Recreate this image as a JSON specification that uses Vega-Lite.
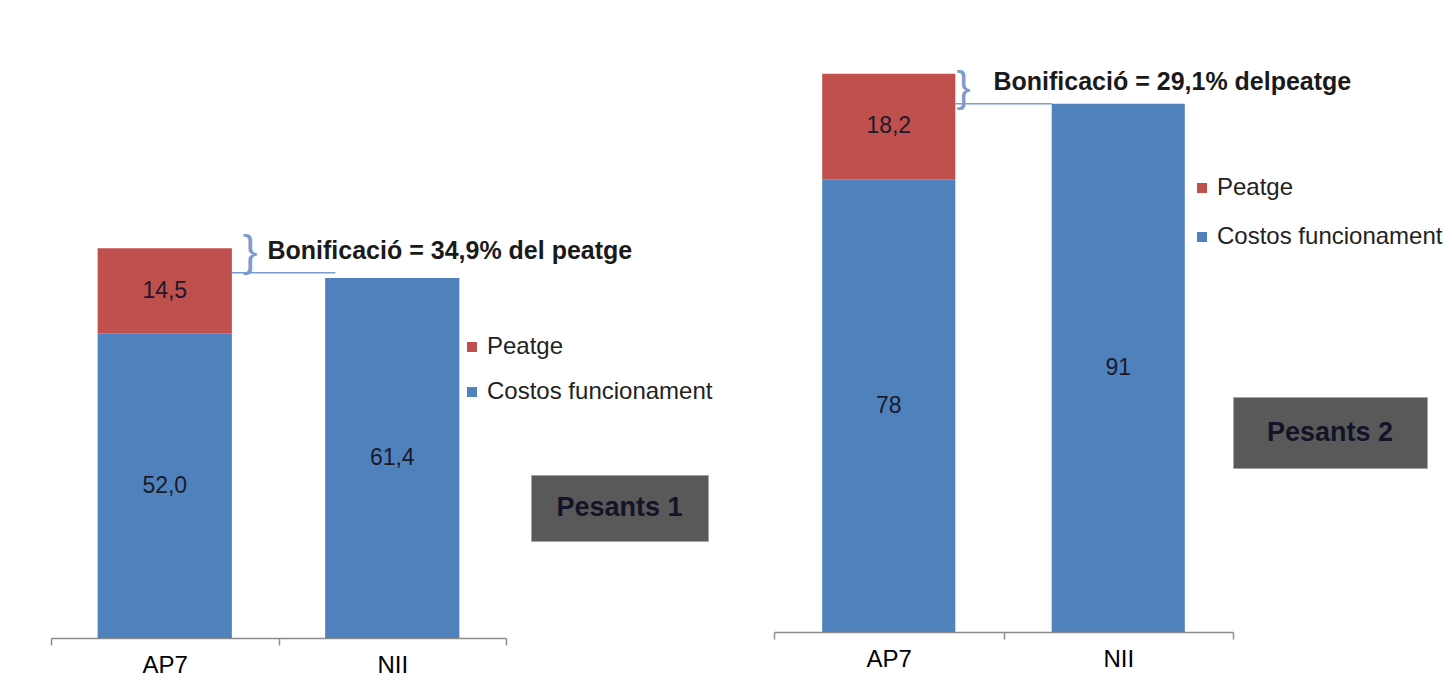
{
  "$schema": "https://vega.github.io/schema/vega-lite/v6.json",
  "padding": {"left": 50, "top": 40, "right": 5, "bottom": 5},
  "background": "white",
  "config": {
    "font": "Liberation Sans",
    "view": {"stroke": null},
    "locale": {"number": {"decimal": ",", "thousands": ".", "grouping": [3], "currency": ["", " €"]}},
    "axisX": {"labelAngle": 0, "labelFontSize": 24, "labelColor": "#000000", "domainColor": "#8c8c8c", "domainWidth": 1.5, "tickColor": "#8c8c8c", "tickWidth": 1.5, "tickSize": 7, "tickBand": "extent", "labelPadding": 8, "grid": false},
    "legend": {"symbolType": "square", "symbolSize": 100, "labelFontSize": 24, "labelColor": "#222222", "padding": 0, "labelOffset": 3, "labelLimit": 400, "orient": "none", "symbolStrokeWidth": 0}
  },
  "datasets": {
    "p1": [
      {"Vehicle": "AP7", "Serie": "Costos funcionament", "value": 52.0},
      {"Vehicle": "AP7", "Serie": "Peatge", "value": 14.5},
      {"Vehicle": "NII", "Serie": "Costos funcionament", "value": 61.4}
    ],
    "p2": [
      {"Vehicle": "AP7", "Serie": "Costos funcionament", "value": 78},
      {"Vehicle": "AP7", "Serie": "Peatge", "value": 18.2},
      {"Vehicle": "NII", "Serie": "Costos funcionament", "value": 91}
    ],
    "a1": [{"from": "AP7", "to": "NII", "label": "Bonificació = 34,9% del peatge", "ly": 66.0, "brace": "}", "by": 65.7, "line": 62.3}],
    "a2": [{"from": "AP7", "to": "NII", "label": "Bonificació = 29,1% delpeatge", "ly": 94.8, "brace": "}", "by": 93.7, "line": 91}],
    "b1": [{"label": "Pesants 1"}],
    "b2": [{"label": "Pesants 2"}],
    "empty": [{}]
  },
  "resolve": {"scale": {"color": "independent", "x": "independent", "y": "independent"}, "legend": {"color": "independent"}},
  "bounds": "flush",
  "spacing": 0,
  "hconcat": [
    {
      "width": 455,
      "height": 598,
      "layer": [
        {
          "data": {"name": "p1"},
          "mark": {"type": "bar", "width": {"band": 0.59}},
          "encoding": {
            "x": {"field": "Vehicle", "type": "nominal", "title": null, "scale": {"domain": ["AP7", "NII"], "paddingInner": 0, "paddingOuter": 0}},
            "y": {"field": "value", "type": "quantitative", "stack": "zero", "axis": null, "scale": {"domain": [0, 102], "nice": false}},
            "color": {"field": "Serie", "type": "nominal", "title": null, "scale": {"domain": ["Peatge", "Costos funcionament"], "range": ["#c0504d", "#4f81bd"]}, "legend": {"legendX": 409, "legendY": 295, "rowPadding": 21}},
            "order": {"field": "Serie", "sort": "ascending"}
          }
        },
        {
          "data": {"name": "p1"},
          "transform": [
            {"stack": "value", "groupby": ["Vehicle"], "sort": [{"field": "Serie", "order": "ascending"}], "as": ["v0", "v1"]},
            {"calculate": "(datum.v0 + datum.v1) / 2", "as": "mid"}
          ],
          "mark": {"type": "text", "fontSize": 23, "color": "#1a1a2a", "baseline": "middle"},
          "encoding": {
            "x": {"field": "Vehicle", "type": "nominal", "title": null},
            "y": {"field": "mid", "type": "quantitative", "axis": null},
            "text": {"field": "value", "type": "quantitative", "format": ".1f"}
          }
        },
        {
          "data": {"name": "a1"},
          "mark": {"type": "rule", "color": "#7b9bcf", "strokeWidth": 1.5},
          "encoding": {
            "x": {"field": "from", "type": "nominal", "bandPosition": 0.795, "title": null},
            "x2": {"field": "to", "bandPosition": 0.25},
            "y": {"field": "line", "type": "quantitative", "axis": null}
          }
        },
        {
          "data": {"name": "a1"},
          "mark": {"type": "text", "align": "center", "baseline": "middle", "fontSize": 44, "color": "#7b9bcf", "dx": -28.5},
          "encoding": {
            "x": {"field": "from", "type": "nominal", "bandPosition": 1, "title": null},
            "y": {"field": "by", "type": "quantitative", "axis": null},
            "text": {"field": "brace"}
          }
        },
        {
          "data": {"name": "a1"},
          "mark": {"type": "text", "align": "left", "baseline": "middle", "fontSize": 25, "fontWeight": "bold", "color": "#1a1a1a", "dx": -11},
          "encoding": {
            "x": {"field": "from", "type": "nominal", "bandPosition": 1, "title": null},
            "y": {"field": "ly", "type": "quantitative", "axis": null},
            "text": {"field": "label"}
          }
        }
      ]
    },
    {"width": 25, "height": 10, "data": {"name": "empty"}, "mark": {"type": "point", "opacity": 0, "size": 0, "strokeWidth": 0}},
    {
      "vconcat": [
        {"width": 177, "height": 435, "data": {"name": "empty"}, "mark": {"type": "point", "opacity": 0, "size": 0, "strokeWidth": 0}},
        {
          "width": 177, "height": 66,
          "view": {"fill": "#595959", "stroke": "#a6a6a6"},
          "data": {"name": "b1"},
          "mark": {"type": "text", "fontSize": 27, "fontWeight": "bold", "color": "#141428"},
          "encoding": {"text": {"field": "label"}}
        }
      ],
      "bounds": "flush",
      "spacing": 0
    },
    {"width": 243, "height": 10, "data": {"name": "empty"}, "mark": {"type": "point", "opacity": 0, "size": 0, "strokeWidth": 0}},
    {
      "width": 459,
      "height": 592,
      "layer": [
        {
          "data": {"name": "p2"},
          "mark": {"type": "bar", "width": {"band": 0.58}},
          "encoding": {
            "x": {"field": "Vehicle", "type": "nominal", "title": null, "scale": {"domain": ["AP7", "NII"], "paddingInner": 0, "paddingOuter": 0}},
            "y": {"field": "value", "type": "quantitative", "stack": "zero", "axis": null, "scale": {"domain": [0, 102], "nice": false}},
            "color": {"field": "Serie", "type": "nominal", "title": null, "scale": {"domain": ["Peatge", "Costos funcionament"], "range": ["#c0504d", "#4f81bd"]}, "legend": {"legendX": 416, "legendY": 136, "rowPadding": 25}},
            "order": {"field": "Serie", "sort": "ascending"}
          }
        },
        {
          "data": {"name": "p2"},
          "transform": [
            {"stack": "value", "groupby": ["Vehicle"], "sort": [{"field": "Serie", "order": "ascending"}], "as": ["v0", "v1"]},
            {"calculate": "(datum.v0 + datum.v1) / 2", "as": "mid"}
          ],
          "mark": {"type": "text", "fontSize": 23, "color": "#1a1a2a", "baseline": "middle"},
          "encoding": {
            "x": {"field": "Vehicle", "type": "nominal", "title": null},
            "y": {"field": "mid", "type": "quantitative", "axis": null},
            "text": {"field": "value", "type": "quantitative", "format": ".1~f"}
          }
        },
        {
          "data": {"name": "a2"},
          "mark": {"type": "rule", "color": "#7b9bcf", "strokeWidth": 1.5},
          "encoding": {
            "x": {"field": "from", "type": "nominal", "bandPosition": 0.79, "title": null},
            "x2": {"field": "to", "bandPosition": 0.21},
            "y": {"field": "line", "type": "quantitative", "axis": null}
          }
        },
        {
          "data": {"name": "a2"},
          "mark": {"type": "text", "align": "center", "baseline": "middle", "fontSize": 42, "color": "#7b9bcf", "dx": -40},
          "encoding": {
            "x": {"field": "from", "type": "nominal", "bandPosition": 1, "title": null},
            "y": {"field": "by", "type": "quantitative", "axis": null},
            "text": {"field": "brace"}
          }
        },
        {
          "data": {"name": "a2"},
          "mark": {"type": "text", "align": "left", "baseline": "middle", "fontSize": 25, "fontWeight": "bold", "color": "#1a1a1a", "dx": -10},
          "encoding": {
            "x": {"field": "from", "type": "nominal", "bandPosition": 1, "title": null},
            "y": {"field": "ly", "type": "quantitative", "axis": null},
            "text": {"field": "label"}
          }
        }
      ]
    },
    {
      "vconcat": [
        {"width": 194, "height": 357, "data": {"name": "empty"}, "mark": {"type": "point", "opacity": 0, "size": 0, "strokeWidth": 0}},
        {
          "width": 194, "height": 71,
          "view": {"fill": "#595959", "stroke": "#a6a6a6"},
          "data": {"name": "b2"},
          "mark": {"type": "text", "fontSize": 27, "fontWeight": "bold", "color": "#141428"},
          "encoding": {"text": {"field": "label"}}
        }
      ],
      "bounds": "flush",
      "spacing": 0
    }
  ]
}
